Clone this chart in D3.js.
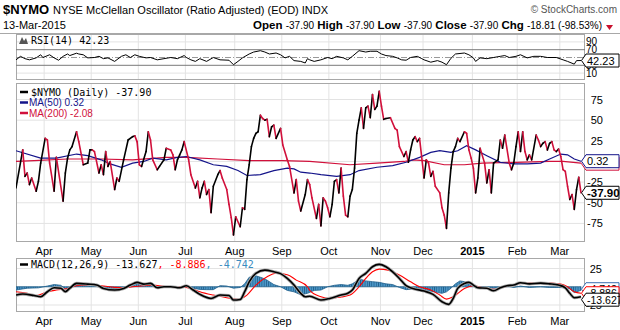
<!DOCTYPE html>
<html><head><meta charset="utf-8">
<script src="https://cdn.jsdelivr.net/npm/d3@7"></script>
<style>
body{margin:0;background:#fff}
svg{display:block}
text{font-family:"Liberation Sans",Arial,sans-serif}
.mono{font-family:"DejaVu Sans Mono",monospace}
</style>
</head><body>
<svg id="chart" width="620" height="330"></svg>
<script>
// ---- calendar ----
const firstSession = "2014-03-13", lastSession = "2015-03-13";
const marketHolidays = ["2014-04-18","2014-05-26","2014-07-04","2014-09-01","2014-11-27",
  "2014-12-25","2015-01-01","2015-01-19","2015-02-16"];
const monthLabels = ["Apr","May","Jun","Jul","Aug","Sep","Oct","Nov","Dec","2015","Feb","Mar"];

// ---- $NYMO daily close (turning points) ----
const nymo = [
["2014-03-13",-32],["2014-03-18",14],["2014-03-19",-18],["2014-03-20",-14],["2014-03-21",-28],
["2014-03-24",-20],["2014-03-26",-36],["2014-03-27",-24],["2014-03-28",-2],["2014-04-01",28],
["2014-04-02",26],["2014-04-03",-2],["2014-04-07",-36],["2014-04-08",5],["2014-04-11",-48],
["2014-04-14",-14],["2014-04-15",4],["2014-04-16",14],["2014-04-17",18],["2014-04-22",36],
["2014-04-23",24],["2014-04-25",-4],["2014-04-29",-2],["2014-04-30",14],["2014-05-01",14],
["2014-05-02",12],["2014-05-06",-14],["2014-05-07",-4],["2014-05-08",-16],["2014-05-09",12],
["2014-05-12",-6],["2014-05-13",0],["2014-05-15",-34],["2014-05-16",-20],["2014-05-19",-24],
["2014-05-21",2],["2014-05-23",26],["2014-05-28",30],["2014-05-29",31],["2014-05-30",24],
["2014-06-02",-4],["2014-06-03",-6],["2014-06-05",12],["2014-06-06",36],["2014-06-09",26],
["2014-06-10",2],["2014-06-12",-10],["2014-06-13",-6],["2014-06-17",2],["2014-06-18",16],
["2014-06-20",14],["2014-06-23",8],["2014-06-24",-10],["2014-06-25",2],["2014-06-26",8],
["2014-06-27",14],["2014-06-30",24],["2014-07-02",2],["2014-07-03",-16],["2014-07-08",-32],
["2014-07-09",-24],["2014-07-10",-44],["2014-07-11",-32],["2014-07-14",-24],["2014-07-15",-40],
["2014-07-16",-34],["2014-07-17",-62],["2014-07-18",-30],["2014-07-22",-16],["2014-07-23",-11],
["2014-07-24",-20],["2014-07-28",-34],["2014-07-29",-52],["2014-07-30",-68],["2014-07-31",-89],
["2014-08-01",-67],["2014-08-05",-79],["2014-08-06",-56],["2014-08-07",-58],["2014-08-08",-22],
["2014-08-11",-4],["2014-08-12",18],["2014-08-13",28],["2014-08-14",34],["2014-08-15",36],
["2014-08-18",56],["2014-08-19",52],["2014-08-20",50],["2014-08-21",51],["2014-08-22",30],
["2014-08-25",42],["2014-08-26",44],["2014-08-27",28],["2014-08-29",40],["2014-09-02",20],
["2014-09-04",2],["2014-09-05",-6],["2014-09-09",-38],["2014-09-10",-22],["2014-09-11",-48],
["2014-09-12",-60],["2014-09-16",-40],["2014-09-17",-22],["2014-09-18",-28],["2014-09-19",-44],
["2014-09-23",-69],["2014-09-24",-52],["2014-09-25",-78],["2014-09-26",-44],["2014-09-29",-48],
["2014-09-30",-56],["2014-10-01",-67],["2014-10-02",-52],["2014-10-03",-24],["2014-10-06",-22],
["2014-10-07",-38],["2014-10-08",-8],["2014-10-09",-42],["2014-10-10",-65],["2014-10-13",-67],
["2014-10-14",-42],["2014-10-15",-34],["2014-10-16",-8],["2014-10-17",34],["2014-10-20",50],
["2014-10-21",65],["2014-10-22",40],["2014-10-23",65],["2014-10-24",67],["2014-10-27",53],
["2014-10-28",81],["2014-10-29",63],["2014-10-30",67],["2014-10-31",85],["2014-11-03",67],
["2014-11-04",51],["2014-11-05",52],["2014-11-07",53],["2014-11-11",40],["2014-11-12",38],
["2014-11-13",18],["2014-11-17",6],["2014-11-18",12],["2014-11-19",-1],["2014-11-20",14],
["2014-11-21",26],["2014-11-24",30],["2014-11-25",24],["2014-11-26",28],["2014-12-01",-20],
["2014-12-02",2],["2014-12-03",-2],["2014-12-04",-18],["2014-12-05",-12],["2014-12-08",-30],
["2014-12-10",-38],["2014-12-11",-56],["2014-12-12",-65],["2014-12-15",-81],["2014-12-16",-38],
["2014-12-17",-8],["2014-12-18",12],["2014-12-19",18],["2014-12-22",28],["2014-12-23",24],
["2014-12-26",36],["2014-12-29",34],["2014-12-30",14],["2014-12-31",4],["2015-01-02",-8],
["2015-01-05",-38],["2015-01-06",-20],["2015-01-07",16],["2015-01-09",-2],["2015-01-12",-26],
["2015-01-13",-10],["2015-01-14",-38],["2015-01-15",-2],["2015-01-20",2],["2015-01-21",26],
["2015-01-22",16],["2015-01-23",32],["2015-01-27",-2],["2015-01-28",-10],["2015-01-29",-2],
["2015-01-30",18],["2015-02-02",36],["2015-02-03",12],["2015-02-04",36],["2015-02-05",12],
["2015-02-06",2],["2015-02-09",8],["2015-02-10",2],["2015-02-12",32],["2015-02-13",26],
["2015-02-17",18],["2015-02-18",22],["2015-02-19",24],["2015-02-20",14],["2015-02-23",22],
["2015-02-24",24],["2015-02-25",14],["2015-02-26",12],["2015-02-27",15],["2015-03-02",6],
["2015-03-03",-10],["2015-03-04",-12],["2015-03-05",-30],["2015-03-06",-46],["2015-03-09",-40],
["2015-03-10",-58],["2015-03-11",-34],["2015-03-12",-19.09],["2015-03-13",-37.90]
];

// ---- moving averages ----
const ma50 = [
["2014-03-13",13],["2014-03-28",4],["2014-04-08",4],["2014-04-22",9],["2014-04-29",7],
["2014-05-07",2],["2014-05-13",-3],["2014-05-20",-7],["2014-05-28",-2],["2014-06-04",0],
["2014-06-10",4],["2014-06-18",2],["2014-06-25",5],["2014-07-01",6],["2014-07-10",2],
["2014-07-18",-4],["2014-07-28",-6],["2014-08-04",-11],["2014-08-08",-17],["2014-08-18",-16],
["2014-08-26",-11],["2014-09-04",-8],["2014-09-09",-9],["2014-09-12",-13],["2014-09-18",-14],
["2014-09-25",-16],["2014-10-06",-18],["2014-10-14",-16],["2014-10-20",-11],["2014-10-30",-7],
["2014-11-10",-5],["2014-11-18",-1],["2014-11-26",5],["2014-12-04",11],["2014-12-10",13],
["2014-12-17",11],["2014-12-22",13],["2014-12-29",19],["2015-01-05",14],["2015-01-12",7],
["2015-01-21",-1],["2015-01-29",-3],["2015-02-06",-3],["2015-02-17",-2],["2015-02-23",3],
["2015-03-02",9],["2015-03-05",8],["2015-03-10",3],["2015-03-13",0.32]
];
const ma200 = [
["2014-03-13",0],["2014-03-25",1],["2014-04-15",3],["2014-05-07",3],["2014-05-28",2],
["2014-06-18",5],["2014-07-01",5],["2014-07-22",3],["2014-08-11",1],["2014-09-02",1],
["2014-09-18",0],["2014-10-14",-4],["2014-10-30",-2],["2014-11-17",0],["2014-11-21",2],
["2014-12-01",1],["2014-12-12",-4],["2014-12-26",-4],["2015-01-08",-2],["2015-01-30",-1],
["2015-02-23",0],["2015-03-03",0],["2015-03-13",-2.08]
];

// ---- RSI(14) ----
const rsi14 = [
["2014-03-13",44],["2014-03-17",53],["2014-03-19",47],["2014-03-21",44],["2014-03-26",49],
["2014-03-28",57],["2014-03-31",50],["2014-04-03",57],["2014-04-07",49],["2014-04-09",43],
["2014-04-11",53],["2014-04-15",59],["2014-04-16",55],["2014-04-22",61],["2014-04-23",59],
["2014-04-25",57],["2014-04-29",49],["2014-05-02",50],["2014-05-06",53],["2014-05-08",47],
["2014-05-12",49],["2014-05-15",40],["2014-05-20",53],["2014-05-22",57],["2014-05-27",50],
["2014-05-29",57],["2014-06-02",53],["2014-06-05",49],["2014-06-09",50],["2014-06-12",44],
["2014-06-17",47],["2014-06-20",50],["2014-06-25",47],["2014-06-30",55],["2014-07-01",50],
["2014-07-03",44],["2014-07-08",40],["2014-07-10",47],["2014-07-15",40],["2014-07-18",50],
["2014-07-23",44],["2014-07-29",43],["2014-07-31",31.5],["2014-08-04",40],["2014-08-06",49],
["2014-08-11",59],["2014-08-13",64],["2014-08-18",67.5],["2014-08-20",64],["2014-08-22",59],
["2014-08-27",61.5],["2014-08-29",57],["2014-09-03",49],["2014-09-05",53],["2014-09-09",42],
["2014-09-12",40],["2014-09-16",36],["2014-09-17",47],["2014-09-18",44],["2014-09-22",40],
["2014-09-25",44],["2014-09-30",50],["2014-10-02",47],["2014-10-06",53],["2014-10-09",49],
["2014-10-13",44],["2014-10-15",53],["2014-10-20",67.5],["2014-10-23",64],["2014-10-27",66],
["2014-10-30",66],["2014-11-03",59],["2014-11-05",55],["2014-11-10",53],["2014-11-12",49],
["2014-11-14",44],["2014-11-18",43],["2014-11-20",50],["2014-11-25",53],["2014-11-28",47],
["2014-12-01",44],["2014-12-04",38],["2014-12-09",42],["2014-12-11",38],["2014-12-15",31.5],
["2014-12-17",48],["2014-12-19",59],["2014-12-26",61.5],["2014-12-30",57],["2015-01-02",49],
["2015-01-05",40],["2015-01-07",49],["2015-01-12",47],["2015-01-15",50],["2015-01-21",53],
["2015-01-23",55],["2015-01-27",50],["2015-01-30",53],["2015-02-03",57],["2015-02-06",49],
["2015-02-11",53],["2015-02-17",53],["2015-02-20",50],["2015-02-26",50],["2015-03-03",44],
["2015-03-05",40],["2015-03-10",33],["2015-03-11",42],["2015-03-13",42.23]
];

// ---- MACD(12,26,9) ----
const macdLine = [
["2014-03-13",-11.4],["2014-03-18",-10],["2014-03-25",-12],["2014-03-28",-13.7],["2014-04-02",-6.8],
["2014-04-07",-1.4],["2014-04-10",-2],["2014-04-14",-6.8],["2014-04-16",-2],["2014-04-22",4.6],
["2014-04-29",3.6],["2014-05-05",2.3],["2014-05-08",-2.3],["2014-05-15",-4.5],["2014-05-21",-2.3],
["2014-05-27",2.3],["2014-05-30",6],["2014-06-04",3.6],["2014-06-09",4.6],["2014-06-12",-1.4],
["2014-06-17",0],["2014-06-20",0],["2014-06-26",-1.4],["2014-07-01",1.4],["2014-07-07",-4.5],
["2014-07-10",-10.4],["2014-07-17",-16],["2014-07-23",-11.4],["2014-07-29",-12],["2014-07-31",-18.2],
["2014-08-05",-17.5],["2014-08-07",-6.8],["2014-08-11",6.8],["2014-08-14",18.4],["2014-08-20",22.8],
["2014-08-26",20.5],["2014-08-29",18],["2014-09-04",11.4],["2014-09-09",2.3],["2014-09-12",-9],
["2014-09-16",-13.7],["2014-09-18",-13],["2014-09-25",-18.2],["2014-10-01",-16],["2014-10-08",-11.4],
["2014-10-13",-9],["2014-10-15",-4.5],["2014-10-20",11.4],["2014-10-23",18.4],["2014-10-28",27.4],
["2014-10-31",30.6],["2014-11-05",27.4],["2014-11-10",20.5],["2014-11-13",11.4],["2014-11-18",1.4],
["2014-11-21",-2.3],["2014-12-01",-5.9],["2014-12-05",-10.4],["2014-12-11",-20.5],["2014-12-16",-24.1],
["2014-12-18",-16],["2014-12-22",-2.3],["2014-12-26",4.6],["2014-12-30",6],["2015-01-02",2.3],
["2015-01-06",-1.4],["2015-01-12",-2],["2015-01-15",-5.5],["2015-01-21",-1.4],["2015-01-26",1.4],
["2015-01-29",2.3],["2015-02-03",5.5],["2015-02-09",4],["2015-02-17",5],["2015-02-23",4],
["2015-02-27",2.3],["2015-03-04",-1.4],["2015-03-06",-9],["2015-03-10",-15],["2015-03-13",-13.627]
];
const signalLine = [
["2014-03-13",-6.8],["2014-03-20",-9],["2014-03-26",-12.3],["2014-04-02",-6.8],["2014-04-08",-4.5],
["2014-04-15",-2.3],["2014-04-22",1.4],["2014-04-29",2.3],["2014-05-07",1.4],["2014-05-15",-0.9],
["2014-05-21",-1.4],["2014-05-28",0],["2014-06-04",1.4],["2014-06-10",2.3],["2014-06-18",0],
["2014-06-26",0],["2014-07-03",-2.3],["2014-07-10",-6.8],["2014-07-18",-11.4],["2014-07-28",-15],
["2014-08-04",-17.3],["2014-08-08",-11.4],["2014-08-14",2.3],["2014-08-21",13.7],["2014-08-27",18.4],
["2014-09-04",16.5],["2014-09-10",9.1],["2014-09-17",0],["2014-09-18",-5],["2014-09-25",-13.7],
["2014-10-01",-16],["2014-10-08",-14],["2014-10-14",-11.4],["2014-10-20",0],["2014-10-23",11.4],
["2014-10-28",20.5],["2014-10-31",24.2],["2014-11-06",22.8],["2014-11-13",16],["2014-11-20",6.8],
["2014-11-26",0],["2014-12-04",-4.5],["2014-12-10",-11.4],["2014-12-15",-16.9],["2014-12-18",-13.7],
["2014-12-26",-2.3],["2015-01-02",1.4],["2015-01-08",-1],["2015-01-15",-3.6],["2015-01-22",-1],
["2015-01-29",3.2],["2015-02-04",4.6],["2015-02-12",5.5],["2015-02-23",5],["2015-03-02",3.6],
["2015-03-05",0],["2015-03-10",-6.8],["2015-03-13",-8.886]
];
const macdHist = [
["2014-03-13",-4.5],["2014-03-20",-2],["2014-03-27",-1.5],["2014-04-02",1],["2014-04-07",3],
["2014-04-10",2],["2014-04-14",-3],["2014-04-17",1],["2014-04-23",3],["2014-04-29",1.5],
["2014-05-05",1],["2014-05-09",-2],["2014-05-15",-3.5],["2014-05-21",-1],["2014-05-27",2],
["2014-05-30",4.5],["2014-06-04",2.5],["2014-06-09",2],["2014-06-12",-1],["2014-06-17",0],
["2014-06-23",0.5],["2014-06-26",-1],["2014-07-01",1.5],["2014-07-07",-2],["2014-07-10",-3.6],
["2014-07-15",-4],["2014-07-18",-4],["2014-07-23",1.5],["2014-07-28",1],["2014-07-31",-2],
["2014-08-05",-1],["2014-08-07",4],["2014-08-11",13],["2014-08-14",15],["2014-08-19",12],
["2014-08-21",9],["2014-08-26",3],["2014-08-29",0],["2014-09-04",-5],["2014-09-09",-7],
["2014-09-12",-11],["2014-09-17",-9],["2014-09-22",-5],["2014-09-25",-4.5],["2014-09-30",0],
["2014-10-03",2],["2014-10-08",3],["2014-10-13",2],["2014-10-15",4],["2014-10-17",8],
["2014-10-21",10],["2014-10-23",8],["2014-10-28",7],["2014-10-31",6],["2014-11-05",4],
["2014-11-10",3],["2014-11-13",-1],["2014-11-18",-4],["2014-11-21",-3],["2014-11-26",-4],
["2014-12-01",-5],["2014-12-04",-6],["2014-12-09",-8],["2014-12-11",-9],["2014-12-15",-7],
["2014-12-17",-2],["2014-12-19",4],["2014-12-23",8],["2014-12-26",7],["2014-12-30",5],
["2015-01-02",1],["2015-01-06",0],["2015-01-12",-1],["2015-01-15",-2],["2015-01-21",-1],
["2015-01-26",1],["2015-01-29",-1],["2015-02-03",1],["2015-02-09",-1],["2015-02-17",0],
["2015-02-23",-1],["2015-02-27",-1],["2015-03-04",-1.5],["2015-03-06",-3],["2015-03-10",-8],
["2015-03-12",-6],["2015-03-13",-4.742]
];

// ---- tick values ----
const rsiTicks = [90, 70, 30, 10];
const priceTicks = [75, 50, 25, 0, -25, -50, -75];
const priceTickLabels = [75, 50, 25, -25, -50, -75];
const macdTicks = [25, 0, -25];

// ---- build trading-day axis ----
const fmt = d3.timeFormat("%Y-%m-%d");
const parse = d3.timeParse("%Y-%m-%d");
const sessions = d3.timeDay.range(parse(firstSession), d3.timeDay.offset(parse(lastSession), 1))
  .filter(d => d.getDay() !== 0 && d.getDay() !== 6 && !marketHolidays.includes(fmt(d)))
  .map(fmt);

const L = 16, R = 585;
const x = d3.scalePoint().domain(sessions).range([L, 581]);
const step = x.step();

// first session of each month after the start
const monthStarts = sessions.filter((s, i) => i > 0 && s.slice(5, 7) !== sessions[i - 1].slice(5, 7));

const svg = d3.select("#chart");
const GRID = "#e3e3e3", BORDER = "#a8a8a8";
const UP = "#000000", DOWN = "#d1103b", NAVY = "#14148a", CRIMSON = "#d1103b";

// ---- header ----
const hdr = svg.append("g");
hdr.append("text").attr("x", 3).attr("y", 13.5).attr("font-size", 13).attr("font-weight", "bold").text("$NYMO");
hdr.append("text").attr("x", 53).attr("y", 13.5).attr("font-size", 11)
  .text("NYSE McClellan Oscillator (Ratio Adjusted) (EOD)  INDX");
hdr.append("text").attr("x", 617).attr("y", 13).attr("font-size", 10).attr("fill", "#555")
  .attr("text-anchor", "end").text("© StockCharts.com");
hdr.append("text").attr("x", 3).attr("y", 29).attr("font-size", 11).text("13-Mar-2015");
const ohlc = hdr.append("text").attr("x", 602).attr("y", 29).attr("font-size", 10).attr("text-anchor", "end");
[["Open", "-37.90"], ["High", "-37.90"], ["Low", "-37.90"], ["Close", "-37.90"], ["Chg", "-18.81 (-98.53%)"]]
  .forEach(([k, v], i) => {
    ohlc.append("tspan").attr("font-weight", "bold").attr("font-size", 11.5).text((i ? " " : "") + k + " ");
    ohlc.append("tspan").text(v);
  });
hdr.append("path").attr("d", "M606,25 L613,25 L609.5,30 Z").attr("fill", "#c8102e");
svg.append("line").attr("x1", 0).attr("x2", 620).attr("y1", 33.5).attr("y2", 33.5).attr("stroke", BORDER);

// ---- panel helper ----
function panel(top, bottom, yScale, ticks) {
  const g = svg.append("g");
  g.selectAll(".vg").data(monthStarts).join("line")
    .attr("x1", d => x(d) - 1).attr("x2", d => x(d) - 1)
    .attr("y1", top).attr("y2", bottom).attr("stroke", GRID);
  g.selectAll(".hg").data(ticks).join("line")
    .attr("x1", L).attr("x2", R).attr("y1", d => yScale(d)).attr("y2", d => yScale(d)).attr("stroke", GRID);
  g.append("rect").attr("x", L + 0.5).attr("y", top + 0.5).attr("width", R - L - 1).attr("height", bottom - top - 1)
    .attr("fill", "none").attr("stroke", BORDER);
  return g;
}
function clipFor(id, top, bottom) {
  svg.append("clipPath").attr("id", id).append("rect").attr("x", L).attr("y", top).attr("width", R - L).attr("height", bottom - top);
  return `url(#${id})`;
}
function tag(y, label, color, bold, fs, textColor) {
  const g = svg.append("g");
  g.append("path").attr("d", `M581.5,${y} L586,${y - 6.5} L619,${y - 6.5} L619,${y + 6.5} L586,${y + 6.5} Z`)
    .attr("fill", "#fff").attr("stroke", color).attr("stroke-width", 1);
  g.append("text").attr("x", 587).attr("y", y + 4).attr("font-size", fs || 11)
    .attr("font-weight", bold ? "bold" : "normal").attr("fill", textColor || "#000").text(label);
}
function legendMark(y, color) {
  svg.append("line").attr("x1", 20).attr("x2", 28).attr("y1", y).attr("y2", y).attr("stroke", color).attr("stroke-width", 2.5);
}

// ---- RSI panel ----
const rsiTop = 34, rsiBot = 80;
const yR = d3.scaleLinear().domain([0, 100]).range([77, 38]);
panel(rsiTop, rsiBot, yR, [90, 10]);
[70, 30].forEach(v => svg.append("line").attr("x1", L).attr("x2", R).attr("y1", yR(v)).attr("y2", yR(v)).attr("stroke", "#7a7a7a"));
svg.append("line").attr("x1", L).attr("x2", R).attr("y1", yR(50)).attr("y2", yR(50))
  .attr("stroke", "#999").attr("stroke-dasharray", "6,2,1,2");
svg.append("path").datum(rsi14).attr("clip-path", clipFor("cr", rsiTop, rsiBot))
  .attr("d", d3.line().x(d => x(d[0])).y(d => yR(d[1])))
  .attr("fill", "none").attr("stroke", "#000").attr("stroke-width", 1);
svg.selectAll(".rt").data(rsiTicks).join("text").attr("x", 597).attr("y", d => yR(d) + 3.5)
  .attr("text-anchor", "end").attr("font-size", 10).text(d => d);
// small mountain icon + label
svg.append("path").attr("d", "M19,44 L22,37 L24,41 L26,38 L28,44 Z").attr("fill", "#555");
svg.append("text").attr("class", "mono").attr("x", 31).attr("y", 44).attr("font-size", 10).text("RSI(14) 42.23");
tag(yR(rsi14[rsi14.length - 1][1]), "42.23", "#000", false);

// ---- main panel ----
const mTop = 83, mBot = 242;
const yM = d3.scaleLinear().domain([-97.5, 95]).range([mBot, mTop]);
panel(mTop, mBot, yM, priceTicks);
const cm = clipFor("cm", mTop, mBot);
const ln = d3.line().x(d => x(d[0])).y(d => yM(d[1]));
svg.append("path").datum(ma200).attr("clip-path", cm).attr("d", ln).attr("fill", "none").attr("stroke", CRIMSON).attr("stroke-width", 1.2);
svg.append("path").datum(ma50).attr("clip-path", cm).attr("d", ln).attr("fill", "none").attr("stroke", NAVY).attr("stroke-width", 1.2);
const segs = d3.pairs(nymo);
svg.append("g").attr("clip-path", cm).selectAll("path").data(segs).join("path")
  .attr("d", d => ln(d)).attr("fill", "none")
  .attr("stroke", d => d[1][1] >= d[0][1] ? UP : DOWN).attr("stroke-width", 1.6).attr("stroke-linecap", "round");
svg.selectAll(".pt").data(priceTickLabels).join("text").attr("x", 603).attr("y", d => yM(d) + 4)
  .attr("text-anchor", "end").attr("font-size", 11).text(d => d);
legendMark(92, "#000");
svg.append("text").attr("class", "mono").attr("x", 31).attr("y", 95.5).attr("font-size", 10).text("$NYMO (Daily) -37.90");
legendMark(102.5, NAVY);
svg.append("text").attr("x", 29).attr("y", 106).attr("font-size", 10).attr("fill", NAVY).text("MA(50) 0.32");
legendMark(113, CRIMSON);
svg.append("text").attr("x", 29).attr("y", 116.5).attr("font-size", 10).attr("fill", CRIMSON).text("MA(200) -2.08");
// last-value tags stack: MA(200) sits behind MA(50)
tag(yM(-2.08) + 0.5, "-2.08", CRIMSON, false);
tag(yM(0.32), "0.32", NAVY, false);
tag(yM(-37.90), "-37.90", "#000", true, 11.5);

// ---- month labels ----
function monthRow(y) {
  svg.selectAll(null).data(monthStarts).join("text")
    .attr("x", d => x(d) - 1).attr("y", y).attr("text-anchor", "middle").attr("font-size", 11)
    .attr("font-weight", (d, i) => monthLabels[i] === "2015" ? "bold" : "normal")
    .text((d, i) => monthLabels[i]);
}
monthRow(255);

// ---- MACD panel ----
const dTop = 258, dBot = 312;
const yD = d3.scaleLinear().domain([-34.6, 39.4]).range([dBot, dTop]);
panel(dTop, dBot, yD, macdTicks);
const cd = clipFor("cd", dTop, dBot);
const defs = svg.append("defs");
const pat = defs.append("pattern").attr("id", "histBars").attr("patternUnits", "userSpaceOnUse")
  .attr("x", L - step / 2).attr("y", 0).attr("width", step).attr("height", 330);
pat.append("rect").attr("width", step).attr("height", 330).attr("fill", "#4d98c9");
pat.append("rect").attr("width", 0.8).attr("height", 330).attr("fill", "#21608c");
svg.append("path").datum(macdHist).attr("clip-path", cd)
  .attr("d", d3.area().x(d => x(d[0])).y0(yD(0)).y1(d => yD(d[1])))
  .attr("fill", "url(#histBars)").attr("stroke", "#21608c").attr("stroke-width", 0.8);
const lnD = d3.line().x(d => x(d[0])).y(d => yD(d[1])).curve(d3.curveMonotoneX);
svg.append("path").datum(signalLine).attr("clip-path", cd).attr("d", lnD).attr("fill", "none").attr("stroke", "#ff0000").attr("stroke-width", 1.1);
svg.append("path").datum(macdLine).attr("clip-path", cd).attr("d", lnD).attr("fill", "none").attr("stroke", "#aaa").attr("stroke-width", 3.2);
svg.append("path").datum(macdLine).attr("clip-path", cd).attr("d", lnD).attr("fill", "none").attr("stroke", "#000").attr("stroke-width", 1.6);
svg.selectAll(".mt").data([25, -25]).join("text").attr("x", 602).attr("y", d => yD(d) + 4)
  .attr("text-anchor", "end").attr("font-size", 11).text(d => d);
legendMark(264.5, "#000");
const ml = svg.append("text").attr("class", "mono").attr("x", 31).attr("y", 268).attr("font-size", 10);
ml.append("tspan").attr("fill", "#000").text("MACD(12,26,9) -13.627");
ml.append("tspan").attr("fill", "#ff0000").text(", -8.886");
ml.append("tspan").attr("fill", "#3a8cc0").text(", -4.742");
// stacked last-value tags: histogram, signal, MACD (front)
tag(yD(-4.742) - 1, "-4.742", "#3a6fb0", false, 10.5);
tag(yD(-8.886), "-8.886", "#ff0000", false, 10.5);
tag(yD(-13.627) + 3, "-13.627", "#000", false, 10.5);

monthRow(325);
</script>
</body></html>
